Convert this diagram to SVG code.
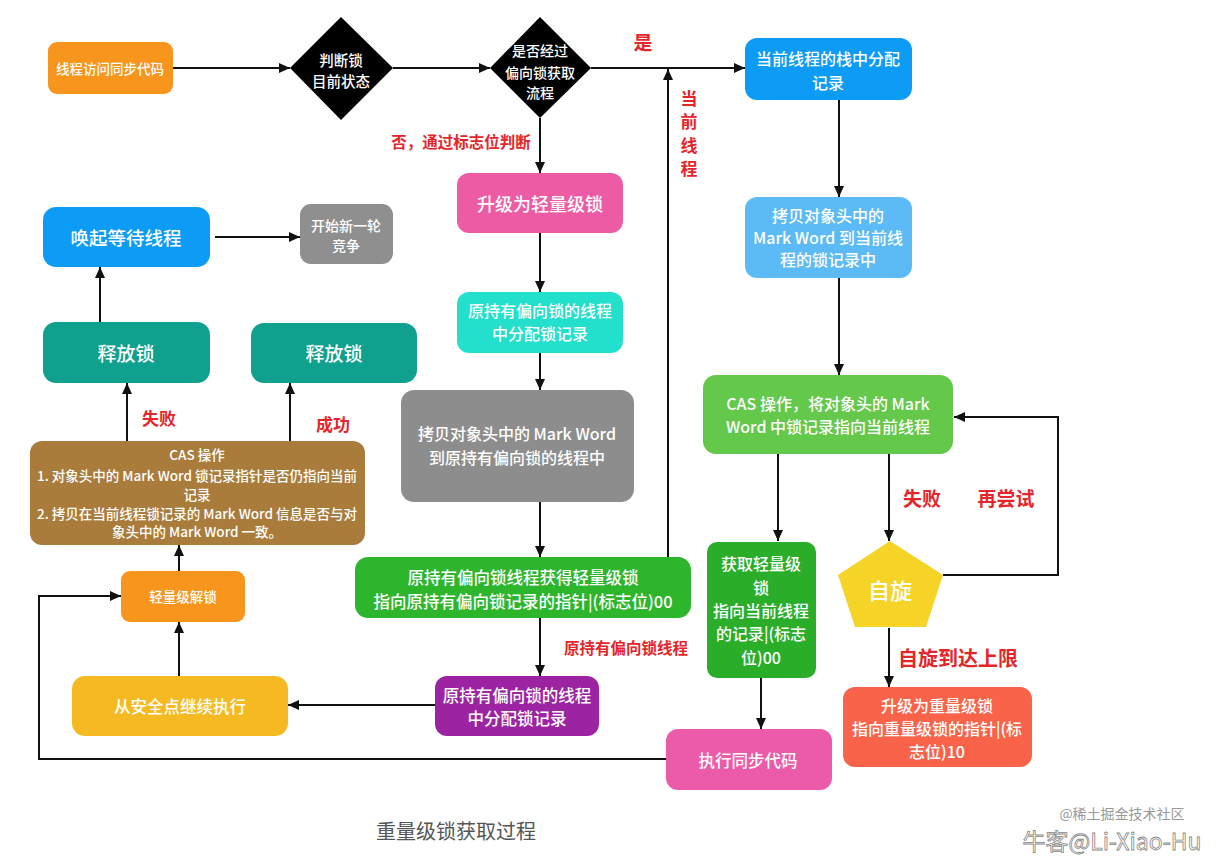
<svg xmlns="http://www.w3.org/2000/svg" width="1225" height="860" viewBox="0 0 1225 860">
<defs>
<marker id="ah" markerUnits="userSpaceOnUse" markerWidth="11" markerHeight="10" refX="11" refY="5" orient="auto">
<path d="M0,0 L11,5 L0,10 z" fill="#111"/>
</marker>
<style>
text{font-family:"Noto Sans CJK SC","Noto Sans",sans-serif;text-anchor:middle;dominant-baseline:central}
.w{fill:#fff;font-weight:500}
.r{fill:#e4262b;font-weight:bold}
.c path{fill:none;stroke:#111;stroke-width:2;marker-end:url(#ah)}
</style>
</defs>
<rect width="1225" height="860" fill="#fff"/>

<g id="n_start"><rect x="48" y="42" width="125" height="52" rx="9" fill="#f8951d"/><text class="w" x="110" y="68" font-size="13.5">线程访问同步代码</text></g>
<g id="n_judge"><polygon points="341,17 393,68 341,120 290,68" fill="#000"/><text class="w" x="341" y="59" font-size="14.5">判断锁</text><text class="w" x="341" y="80" font-size="14.5">目前状态</text></g>
<g id="n_biased"><polygon points="540,17 591,68 540,118 490,68" fill="#000"/><text class="w" x="540" y="50" font-size="14">是否经过</text><text class="w" x="540" y="72" font-size="14">偏向锁获取</text><text class="w" x="540" y="92" font-size="14">流程</text></g>
<g id="n_stack"><rect x="745" y="38" width="167" height="62" rx="12" fill="#0d9cf5"/><text class="w" x="828" y="58" font-size="16">当前线程的栈中分配</text><text class="w" x="828" y="82" font-size="16">记录</text></g>
<g id="n_copy1"><rect x="745" y="197" width="167" height="81" rx="12" fill="#5cbbf6"/><text class="w" x="828" y="215" font-size="16">拷贝对象头中的</text><text class="w" x="828" y="237" font-size="16">Mark Word 到当前线</text><text class="w" x="828" y="259" font-size="16">程的锁记录中</text></g>
<g id="n_cas1"><rect x="703" y="375" width="250" height="79" rx="13" fill="#64c84b"/><text class="w" x="828" y="403" font-size="16">CAS 操作，将对象头的 Mark</text><text class="w" x="828" y="426" font-size="16">Word 中锁记录指向当前线程</text></g>
<g id="n_getlight"><rect x="707" y="542" width="109" height="136" rx="10" fill="#2aae2a"/><text class="w" x="761" y="563" font-size="16">获取轻量级</text><text class="w" x="761" y="587" font-size="16">锁</text><text class="w" x="761" y="610" font-size="16">指向当前线程</text><text class="w" x="761" y="633" font-size="16">的记录|(标志</text><text class="w" x="761" y="657" font-size="16">位)00</text></g>
<g id="n_spin"><polygon points="890,541 943,575 926,627 855,627 838,575" fill="#f6d327"/><text class="w" x="890" y="589" font-size="22">自旋</text></g>
<g id="n_heavy"><rect x="843" y="687" width="189" height="80" rx="12" fill="#f9634a"/><text class="w" x="937" y="705" font-size="16">升级为重量级锁</text><text class="w" x="937" y="728" font-size="16">指向重量级锁的指针|(标</text><text class="w" x="937" y="751" font-size="16">志位)10</text></g>
<g id="n_exec"><rect x="666" y="729" width="166" height="61" rx="12" fill="#ec5ba9"/><text class="w" x="748" y="760" font-size="16.5">执行同步代码</text></g>
<g id="n_uplight"><rect x="457" y="173" width="166" height="60" rx="12" fill="#ee5ba5"/><text class="w" x="540" y="203" font-size="18">升级为轻量级锁</text></g>
<g id="n_alloc1"><rect x="457" y="292" width="166" height="61" rx="12" fill="#22e0cb"/><text class="w" x="540" y="310" font-size="16">原持有偏向锁的线程</text><text class="w" x="540" y="333" font-size="16">中分配锁记录</text></g>
<g id="n_copy2"><rect x="401" y="390" width="233" height="112" rx="13" fill="#8d8d8d"/><text class="w" x="517" y="433" font-size="16">拷贝对象头中的 Mark Word</text><text class="w" x="517" y="457" font-size="16">到原持有偏向锁的线程中</text></g>
<g id="n_gotlight"><rect x="355" y="557" width="336" height="61" rx="13" fill="#2db52c"/><text class="w" x="523" y="577" font-size="16.5">原持有偏向锁线程获得轻量级锁</text><text class="w" x="523" y="601" font-size="16.5">指向原持有偏向锁记录的指针|(标志位)00</text></g>
<g id="n_alloc2"><rect x="435" y="676" width="164" height="60" rx="12" fill="#9c23a2"/><text class="w" x="517" y="695" font-size="16.5">原持有偏向锁的线程</text><text class="w" x="517" y="718" font-size="16.5">中分配锁记录</text></g>
<g id="n_safe"><rect x="72" y="676" width="216" height="60" rx="13" fill="#f5ba22"/><text class="w" x="180" y="706" font-size="16.5">从安全点继续执行</text></g>
<g id="n_unlock"><rect x="121" y="571" width="124" height="51" rx="9" fill="#f8951d"/><text class="w" x="183" y="596" font-size="13.5">轻量级解锁</text></g>
<g id="n_cas2"><rect x="30" y="441" width="335" height="104" rx="12" fill="#a97c3c"/><text class="w" x="197" y="454" font-size="13.5">CAS 操作</text><text class="w" x="197" y="475" font-size="13.5">1. 对象头中的 Mark Word 锁记录指针是否仍指向当前</text><text class="w" x="197" y="494" font-size="13.5">记录</text><text class="w" x="197" y="513" font-size="13.5">2. 拷贝在当前线程锁记录的 Mark Word 信息是否与对</text><text class="w" x="197" y="531" font-size="13.5">象头中的 Mark Word 一致。</text></g>
<g id="n_release1"><rect x="43" y="322" width="167" height="61" rx="13" fill="#0fa08e"/><text class="w" x="126" y="352" font-size="19">释放锁</text></g>
<g id="n_release2"><rect x="251" y="323" width="166" height="60" rx="13" fill="#0fa08e"/><text class="w" x="334" y="352" font-size="19">释放锁</text></g>
<g id="n_wake"><rect x="43" y="207" width="167" height="60" rx="13" fill="#0d9cf5"/><text class="w" x="126" y="237" font-size="18.5">唤起等待线程</text></g>
<g id="n_new"><rect x="300" y="204" width="93" height="60" rx="11" fill="#8f8f8f"/><text class="w" x="346" y="225" font-size="14">开始新一轮</text><text class="w" x="346" y="245" font-size="14">竞争</text></g>

<g id="connectors" class="c">
<path d="M173,68 H290"/>
<path d="M393,68 H490"/>
<path d="M591,68 H745"/>
<path d="M540,118 V173"/>
<path d="M668,557 V69"/>
<path d="M839,100 V197"/>
<path d="M839,278 V375"/>
<path d="M778,454 V541"/>
<path d="M889,454 V541"/>
<path d="M943,575 H1058 V417 H954"/>
<path d="M889,628 V687"/>
<path d="M761,678 V729"/>
<path d="M540,233 V292"/>
<path d="M540,353 V390"/>
<path d="M540,502 V557"/>
<path d="M540,618 V676"/>
<path d="M435,705 H288"/>
<path d="M179,676 V622"/>
<path d="M179,571 V545"/>
<path d="M666,759 H39 V596 H121"/>
<path d="M127,441 V383"/>
<path d="M290,441 V383"/>
<path d="M100,322 V267"/>
<path d="M215,237 H300"/>
</g>

<g id="labels">
<text class="r" x="643" y="41" font-size="19">是</text>
<text class="r" x="461" y="141" font-size="15.5">否，通过标志位判断</text>
<text class="r" x="689" y="97" font-size="17">当</text>
<text class="r" x="689" y="120" font-size="17">前</text>
<text class="r" x="689" y="144" font-size="17">线</text>
<text class="r" x="689" y="167" font-size="17">程</text>
<text class="r" x="159" y="417" font-size="17">失败</text>
<text class="r" x="333" y="423" font-size="17">成功</text>
<text class="r" x="626" y="647" font-size="15.5">原持有偏向锁线程</text>
<text class="r" x="922" y="497" font-size="19">失败</text>
<text class="r" x="1006" y="497" font-size="19">再尝试</text>
<text class="r" x="958" y="657" font-size="20">自旋到达上限</text>
</g>

<text x="456" y="830" font-size="20" fill="#555">重量级锁获取过程</text>
<g id="watermark">
<text x="1122" y="813" font-size="14" fill="#999">@稀土掘金技术社区</text>
<text x="1112" y="840" font-size="23" fill="#fff" stroke="#888" stroke-width="0.8">牛客@Li-Xiao-Hu</text>
</g>
</svg>
